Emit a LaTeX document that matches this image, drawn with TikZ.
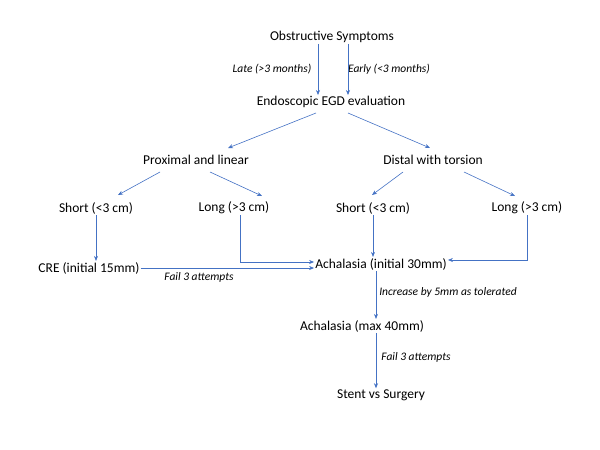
\documentclass[tikz,border=0pt]{standalone}
\usepackage{fontspec}
\setmainfont{Carlito}
\usetikzlibrary{arrows.meta}
\begin{document}
\begin{tikzpicture}[x=1pt,y=-1pt,
  t/.style={font=\fontsize{13.5}{16}\selectfont,inner sep=1pt},
  l/.style={font=\fontsize{11.5}{13}\selectfont\itshape,inner sep=1pt},
  a/.style={color={rgb,255:red,68;green,114;blue,196},line width=0.6pt,-{Stealth[length=5pt,width=4pt]}}]
\useasboundingbox (0,0) rectangle (600,450);
\node[t] (os) at (332,37) {Obstructive Symptoms};
\node[l] (late) at (272,69) {Late (>3 months)};
\node[l] (early) at (389,69) {Early (<3 months)};
\node[t] (egd) at (331,102) {Endoscopic EGD evaluation};
\node[t] (pl) at (196,160) {Proximal and linear};
\node[t] (dt) at (433,160) {Distal with torsion};
\node[t] (s1) at (96,208) {Short (<3 cm)};
\node[t] (l1) at (234,208) {Long (>3 cm)};
\node[t] (s2) at (373,208) {Short (<3 cm)};
\node[t] (l2) at (527,208) {Long (>3 cm)};
\node[t] (cre) at (89,268) {CRE (initial 15mm)};
\node[t] (a30) at (381,264) {Achalasia (initial 30mm)};
\node[l] (f1) at (199,277) {Fail 3 attempts};
\node[l] (inc) at (448,292) {Increase by 5mm as tolerated};
\node[t] (a40) at (362,326) {Achalasia (max 40mm)};
\node[l] (f2) at (416,357) {Fail 3 attempts};
\node[t] (ss) at (381,395) {Stent vs Surgery};
\coordinate (c1) at (240,262);
\coordinate (c2) at (527,260);
\draw[a] (os.south -| 318,0) -- (egd.north -| 318,0);
\draw[a] (os.south -| 348,0) -- (egd.north -| 348,0);
\draw[a] (316,113) -- (228,148);
\draw[a] (348,113) -- (430,148);
\draw[a] (160,172) -- (118,195);
\draw[a] (210,172) -- (262,196);
\draw[a] (403,172) -- (372,195);
\draw[a] (464,172) -- (515,196);
\draw[a] (s1.south -| 96,0) -- (cre.north -| 96,0);
\draw[a] (s2.south -| 373,0) -- (a30.north -| 373,0);
\draw[a] (cre.east) -- (a30.west |- cre.east);
\draw[a] (l1.south -| c1) -- (c1) -- (a30.west |- c1);
\draw[a] (l2.south) -- (c2) -- (a30.east |- c2);
\draw[a] (a30.south -| 376,0) -- (a40.north -| 376,0);
\draw[a] (a40.south -| 376,0) -- (ss.north -| 376,0);
\end{tikzpicture}
\end{document}
